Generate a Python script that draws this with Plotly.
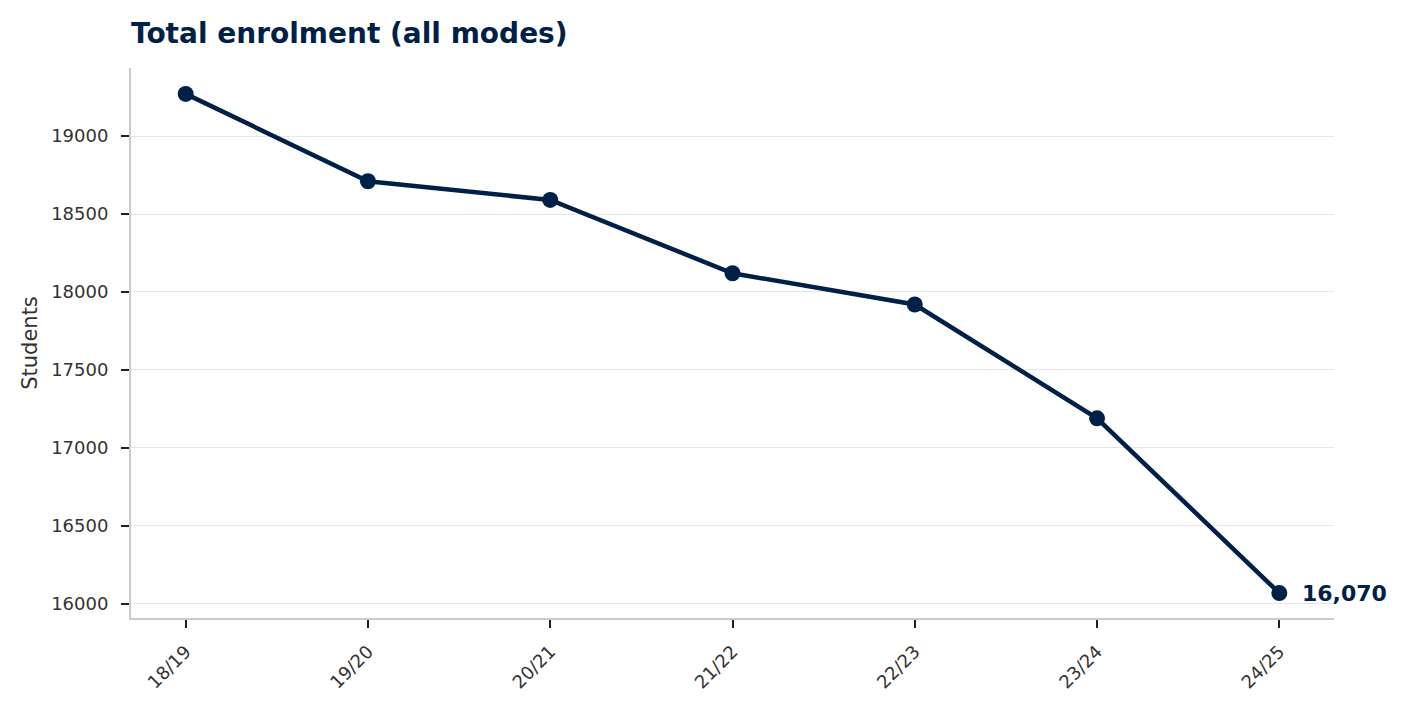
import plotly.graph_objects as go

years = ["18/19", "19/20", "20/21", "21/22", "22/23", "23/24", "24/25"]
students = [19270, 18710, 18590, 18120, 17920, 17190, 16070]
y_ticks = [16000, 16500, 17000, 17500, 18000, 18500, 19000]

NAVY = "#002147"
FONT = "DejaVu Sans"

fig = go.Figure()
fig.add_trace(go.Scatter(
    x=years, y=students, mode="lines+markers",
    line=dict(color=NAVY, width=4.5),
    marker=dict(color=NAVY, size=16),
    showlegend=False, hoverinfo="x+y",
))
fig.add_annotation(
    x=years[-1], y=students[-1], text=f"<b>{students[-1]:,}</b>",
    showarrow=False, xanchor="left", yanchor="middle", xshift=21,
    font=dict(family=FONT, size=22, color=NAVY),
)
fig.update_layout(
    width=1407, height=711,
    margin=dict(l=131, r=73, t=68, b=93),
    paper_bgcolor="white", plot_bgcolor="white",
    font=dict(family=FONT, color="#333333", size=18),
    title=dict(text="<b>Total enrolment (all modes)</b>", x=131/1407, xanchor="left",
               y=1-33/711, yanchor="middle",
               font=dict(family=FONT, size=28, color=NAVY)),
    xaxis=dict(
        type="category", range=[-0.3, 6.3], tickangle=-45,
        showline=True, linecolor="#cccccc", linewidth=2, mirror=False,
        ticks="outside", ticklen=8, tickwidth=2, tickcolor="#222222",
        ticklabelstandoff=6,
        showgrid=False, tickfont=dict(size=18, color="#333333"),
    ),
    yaxis=dict(
        range=[15910, 19436], tickvals=y_ticks, ticktext=[str(v) for v in y_ticks],
        showline=True, linecolor="#cccccc", linewidth=2,
        ticks="outside", ticklen=8, tickwidth=2, tickcolor="#222222",
        ticklabelstandoff=9,
        showgrid=True, gridcolor="#e6e6e6", gridwidth=1, zeroline=False,
        title=dict(text="Students", font=dict(size=21, color="#333333"), standoff=8),
        tickfont=dict(size=18, color="#333333"),
    ),
)
fig.write_html("out.html")
